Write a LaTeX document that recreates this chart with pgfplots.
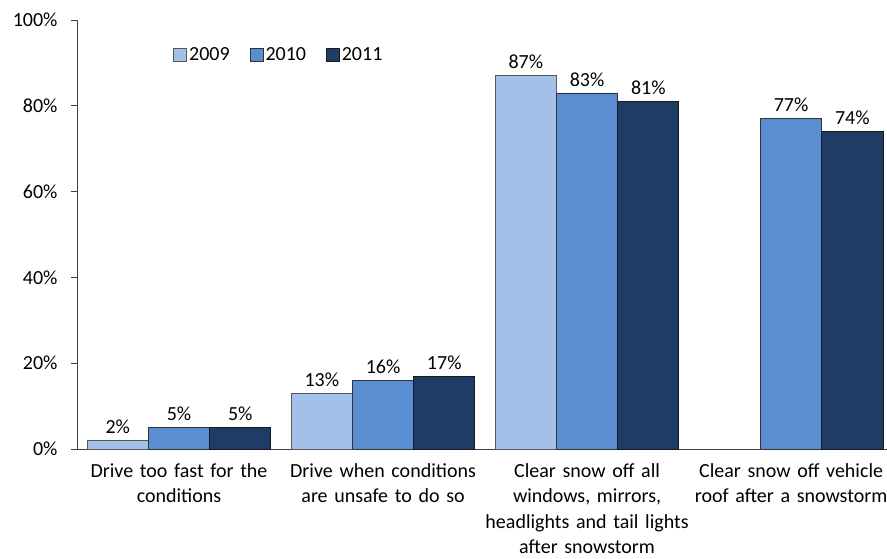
\documentclass[border=0pt]{standalone}
\usepackage{fontspec}
\setmainfont{Carlito}
\usepackage{pgfplots}
\pgfplotsset{compat=1.18}
\definecolor{cA}{HTML}{A3C1E8}
\definecolor{cB}{HTML}{5A8ED2}
\definecolor{cC}{HTML}{1F3C66}
\begin{document}
\begin{tikzpicture}[font=\fontsize{20pt}{24pt}\selectfont]
\begin{axis}[
  at={(77pt,109pt)}, anchor=south west,
  scale only axis, width=810pt, height=429pt,
  xmin=-0.5, xmax=3.47, ymin=0, ymax=100,
  axis x line*=bottom, axis y line*=left,
  axis line style={black!75, line width=0.8pt, -},
  ytick={0,20,...,100},
  yticklabel={\pgfmathprintnumber{\tick}\%},
  /pgf/number format/assume math mode=true,
  yticklabel style={anchor=east, xshift=-10pt},
  tick align=outside,
  major tick length=6pt,
  tick style={black!75, line width=0.8pt},
  xtick={0,1,2,3},
  xticklabels={{Drive too fast for the\\conditions},{Drive when conditions\\are unsafe to do so},{Clear snow off all\\windows, mirrors,\\headlights and tail lights\\after snowstorm},{Clear snow off vehicle\\roof after a snowstorm}},
  xticklabel style={align=center, text width=230pt, yshift=-5pt, font=\fontsize{20pt}{25.5pt}\selectfont},
  x tick style={draw=none},
  extra x ticks={-0.5,0.5,1.5,2.5},
  extra x tick labels={},
  extra x tick style={tick style={black!75, line width=0.8pt}, major tick length=7pt},
  ybar=0pt, bar width=0.3,
  nodes near coords={\pgfmathprintnumber{\pgfplotspointmeta}\%},
  nodes near coords style={black, font=\fontsize{20pt}{24pt}\selectfont, /pgf/number format/assume math mode=true, yshift=3pt},
  legend style={at={(rel axis cs:0.115,0.918)}, anchor=west, draw=none, fill=none, legend columns=-1,
    /tikz/every even column/.append style={column sep=18pt}},
  legend image code/.code={\draw[#1, line width=0.8pt] (0pt,-6.5pt) rectangle (13pt,6.5pt);},
  clip=false,
]
\addplot[fill=cA, draw=black!65, line width=0.8pt] coordinates {(0,2) (1,13) (2,87)};
\addplot[fill=cB, draw=black!80, line width=0.8pt] coordinates {(0,5) (1,16) (2,83) (3,77)};
\addplot[fill=cC, draw=black!90, line width=0.8pt] coordinates {(0,5) (1,17) (2,81) (3,74)};
\legend{2009,2010,2011}
\end{axis}
\pgfresetboundingbox
\path (0,0) rectangle (887pt,558pt);
\end{tikzpicture}
\end{document}
